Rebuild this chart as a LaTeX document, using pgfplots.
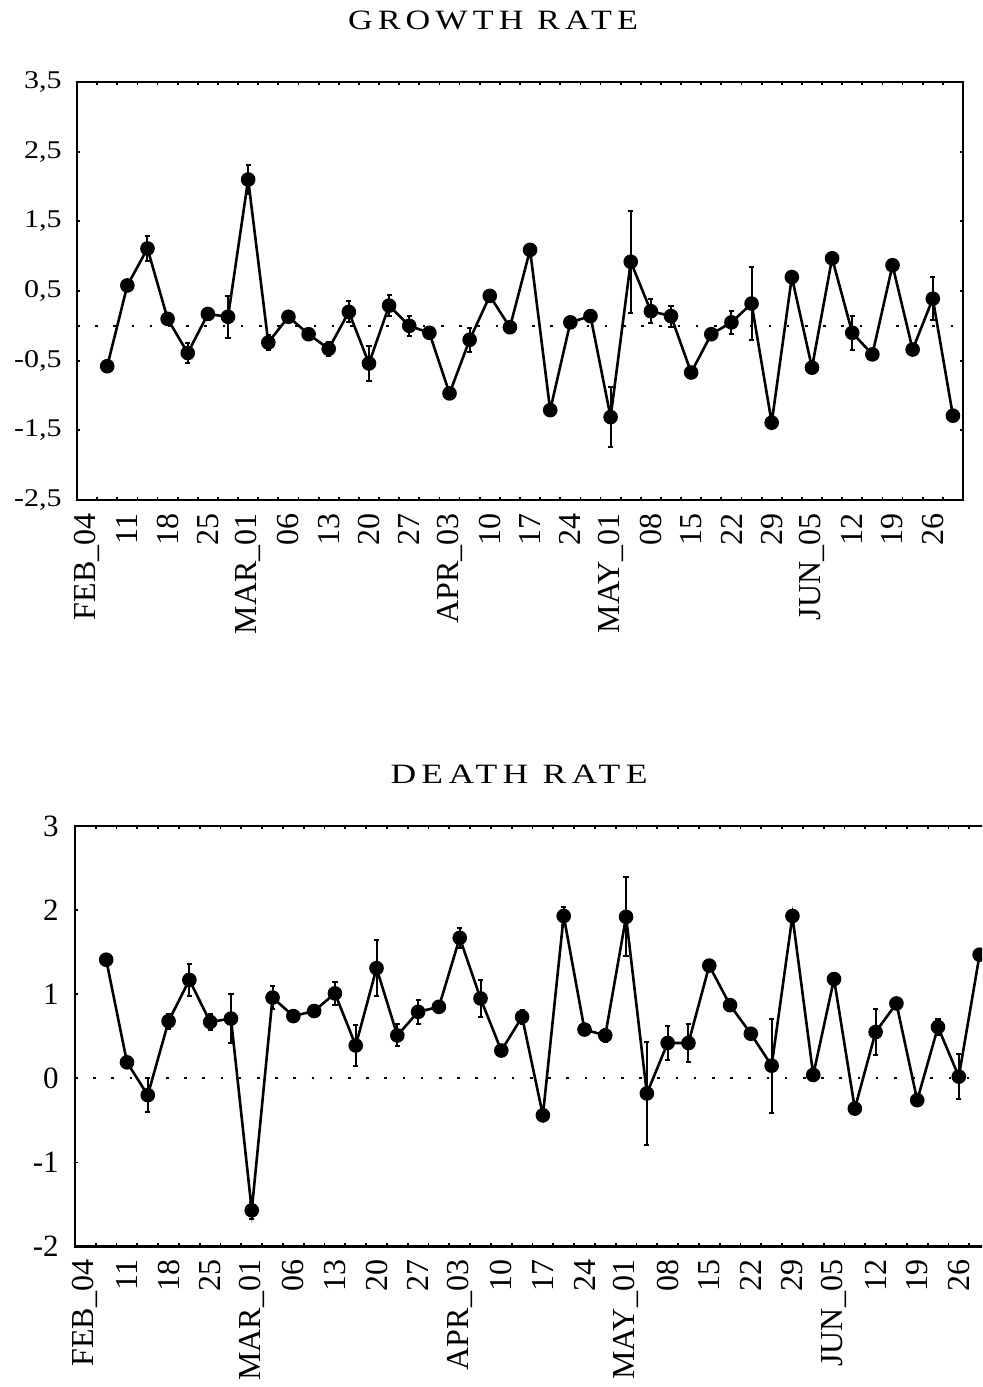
\documentclass[border=0pt]{standalone}
\usepackage{fontspec}
\setmainfont{Liberation Serif}
\newfontfamily\titlefont[LetterSpace=15]{Liberation Serif}
\usepackage{pgfplots}
\pgfplotsset{compat=1.18}
\usepackage{pgfplotstable}

% weekly index, mean, error
\pgfplotstableread{
idx val err
1 -0.58 0
2 0.58 0
3 1.11 0.18
4 0.10 0.08
5 -0.39 0.15
6 0.17 0
7 0.13 0.30
8 2.10 0.21
9 -0.24 0.11
10 0.13 0
11 -0.12 0
12 -0.33 0.10
13 0.20 0.15
14 -0.54 0.25
15 0.29 0.15
16 0.00 0.14
17 -0.10 0
18 -0.97 0.06
19 -0.20 0.17
20 0.43 0
21 -0.02 0.06
22 1.09 0
23 -1.21 0.05
24 0.05 0
25 0.14 0
26 -1.31 0.43
27 0.92 0.73
28 0.21 0.17
29 0.14 0.15
30 -0.67 0
31 -0.12 0
32 0.05 0.17
33 0.32 0.53
34 -1.39 0
35 0.70 0
36 -0.60 0
37 0.97 0
38 -0.10 0.24
39 -0.41 0
40 0.87 0
41 -0.34 0
42 0.39 0.31
43 -1.29 0
}\growth

\pgfplotstableread{
idx val err
1 1.41 0
2 0.19 0
3 -0.20 0.20
4 0.68 0.09
5 1.17 0.19
6 0.67 0.09
7 0.71 0.29
8 -1.57 0.10
9 0.96 0.14
10 0.74 0
11 0.80 0.04
12 1.01 0.14
13 0.39 0.24
14 1.31 0.33
15 0.51 0.13
16 0.79 0.14
17 0.85 0
18 1.67 0.12
19 0.95 0.22
20 0.33 0
21 0.73 0.08
22 -0.44 0
23 1.93 0.11
24 0.58 0
25 0.51 0.08
26 1.92 0.47
27 -0.18 0.61
28 0.42 0.20
29 0.42 0.23
30 1.34 0
31 0.87 0
32 0.53 0.05
33 0.15 0.56
34 1.93 0
35 0.04 0
36 1.18 0
37 -0.36 0
38 0.55 0.27
39 0.89 0
40 -0.26 0
41 0.61 0.10
42 0.02 0.27
43 1.47 0
}\death

\tikzset{zeroline/.style={black, line width=1pt, dash pattern=on 1.3pt off 7.8pt}}

\pgfplotsset{
  rate/.style={
    scale only axis,
    xmin=-0.5, xmax=43.5,
    axis line style={line width=1.1pt},
    tick align=inside,
    xtick pos=both, ytick pos=both,
    xtick={0,2,...,42},
    xticklabels={FEB\_04,11,18,25,MAR\_01,06,13,20,27,APR\_03,10,17,24,MAY\_01,08,15,22,29,JUN\_05,12,19,26},
    minor xtick={0.5,1.5,...,42.5},
    major x tick style={draw=none},
    major tick length=1.6pt, minor tick length=1.6pt,
    every tick/.append style={line width=0.9pt, black},
    xticklabel style={rotate=90, anchor=east, inner xsep=6.5pt, inner ysep=0pt,
      font=\fontsize{16}{16}\selectfont},
  },
  pts/.style={black, line width=1.3pt, mark=*, mark size=3pt,
    error bars/.cd, y dir=both, y explicit,
    error bar style={line width=1pt},
    error mark options={rotate=90, mark size=1.3pt, line width=1pt}},
}

\begin{document}
\begin{tikzpicture}
\path[use as bounding box, clip] (0,0) rectangle (491pt,-693.5pt);

\node[font=\titlefont\fontsize{14}{14}\selectfont, xscale=1.22, anchor=base]
  at (246.5pt,-14.5pt) {GROWTH RATE};
\node[font=\titlefont\fontsize{14}{14}\selectfont, xscale=1.27, anchor=base]
  at (259.5pt,-391.5pt) {DEATH RATE};

\begin{axis}[rate,
  at={(38.5pt,-41pt)}, anchor=north west,
  width=443pt, height=209pt,
  ymin=-2.5, ymax=3.5,
  ytick={-2.5,-1.5,-0.5,0.5,1.5,2.5,3.5},
  yticklabels={{-2,5},{-1,5},{-0,5},{0,5},{1,5},{2,5},{3,5}},
  yticklabel style={anchor=east, inner xsep=7.5pt, yscale=0.85,
    font=\fontsize{15}{15}\selectfont},
]
\draw[zeroline] (axis cs:-0.5,0) -- (axis cs:43.5,0);
\addplot[pts] table[x=idx, y=val, y error=err] {\growth};
\end{axis}

\begin{axis}[rate,
  at={(37.5pt,-413pt)}, anchor=north west,
  width=457.5pt, height=210.25pt,
  ymin=-2, ymax=3,
  ytick={-2,-1,0,1,2,3},
  yticklabels={-2,-1,0,1,2,3},
  yticklabel style={anchor=east, inner xsep=8pt,
    font=\fontsize{15.5}{15.5}\selectfont},
]
\draw[zeroline] (axis cs:-0.5,0) -- (axis cs:43.5,0);
\addplot[pts] table[x=idx, y=val, y error=err] {\death};
\end{axis}
\end{tikzpicture}
\end{document}
